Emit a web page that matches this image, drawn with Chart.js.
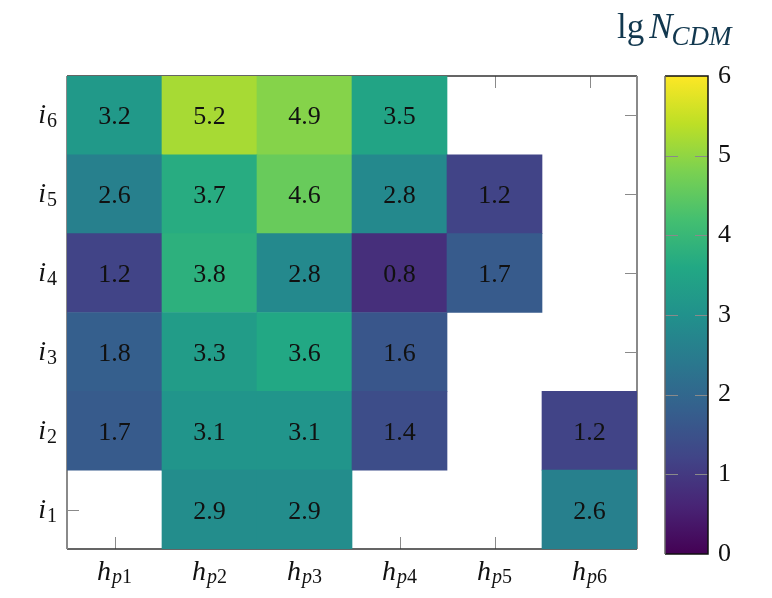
<!DOCTYPE html>
<html>
<head>
<meta charset="utf-8">
<script src="https://cdn.jsdelivr.net/npm/chart.js@4.4.1/dist/chart.umd.min.js"></script>
<style>
  html, body { margin: 0; padding: 0; background: #fff; }
  #wrap { position: relative; width: 772px; height: 598px; }
  #heat { position: absolute; left: 0; top: 0; }
  #cbar { position: absolute; left: 640px; top: 0; }
</style>
</head>
<body>
<div id="wrap">
  <canvas id="heat" width="772" height="598"></canvas>
  <canvas id="cbar" width="132" height="598"></canvas>
</div>
<script>
// --- data ---
const colLabels = ['p1', 'p2', 'p3', 'p4', 'p5', 'p6'];   // h_{p..}
const rowLabels = ['1', '2', '3', '4', '5', '6'];          // i_{..}
// one array per row (i1 .. i6), null = empty cell
const rowI1 = [null, 2.9, 2.9, null, null, 2.6];
const rowI2 = [1.7, 3.1, 3.1, 1.4, null, 1.2];
const rowI3 = [1.8, 3.3, 3.6, 1.6, null, null];
const rowI4 = [1.2, 3.8, 2.8, 0.8, 1.7, null];
const rowI5 = [2.6, 3.7, 4.6, 2.8, 1.2, null];
const rowI6 = [3.2, 5.2, 4.9, 3.5, null, null];
const rows = [rowI1, rowI2, rowI3, rowI4, rowI5, rowI6];
const cbMin = 0, cbMax = 6;
const cbTicks = [0, 1, 2, 3, 4, 5, 6];

// viridis colormap
const viridisStops = ['#440154', '#482475', '#414487', '#355f8d', '#2a788e',
  '#21918c', '#22a884', '#44bf70', '#7ad151', '#bddf26', '#fde725'];

function hexToRgb(h) {
  return [parseInt(h.slice(1, 3), 16), parseInt(h.slice(3, 5), 16), parseInt(h.slice(5, 7), 16)];
}
function viridis(t) {
  t = Math.max(0, Math.min(1, t));
  const n = viridisStops.length - 1;
  const i = Math.min(n - 1, Math.floor(t * n));
  const f = t * n - i;
  const a = hexToRgb(viridisStops[i]), b = hexToRgb(viridisStops[i + 1]);
  const c = a.map((v, k) => Math.round(v + (b[k] - v) * f));
  return 'rgb(' + c.join(',') + ')';
}
const colorFor = v => v == null ? 'rgba(0,0,0,0)' : viridis((v - cbMin) / (cbMax - cbMin));

const serif = "'Liberation Serif', 'DejaVu Serif', serif";

// italic base letter + subscript (italic letter, upright digit)
function drawSub(ctx, base, sub, x, y, align, subDy) {
  ctx.font = 'italic 28px ' + serif;
  const wb = ctx.measureText(base).width;
  const letter = sub.replace(/[0-9]/g, '');
  const digits = sub.replace(/[^0-9]/g, '');
  ctx.font = 'italic 20px ' + serif;
  const wl = ctx.measureText(letter).width;
  ctx.font = '20px ' + serif;
  const wd = ctx.measureText(digits).width;
  const total = wb + 1 + wl + wd;
  const x0 = align === 'right' ? x - total : x - total / 2;
  ctx.textAlign = 'left';
  ctx.textBaseline = 'alphabetic';
  ctx.font = 'italic 28px ' + serif;
  ctx.fillText(base, x0, y);
  ctx.font = 'italic 20px ' + serif;
  ctx.fillText(letter, x0 + wb + 1, y + subDy);
  ctx.font = '20px ' + serif;
  ctx.fillText(digits, x0 + wb + 1 + wl, y + subDy);
}

const heatAxes = {
  id: 'heatAxes',
  beforeDatasetsDraw(chart) {
    const { ctx, chartArea: a, scales: { x, y } } = chart;
    ctx.save();
    // ticks (inward, on all four sides)
    ctx.strokeStyle = '#8a8a8a';
    ctx.lineWidth = 1;
    const tl = 12;
    ctx.beginPath();
    colLabels.forEach((c, i) => {
      const px = Math.round(x.getPixelForValue(i)) + 0.5;
      ctx.moveTo(px, a.bottom); ctx.lineTo(px, a.bottom - tl);
      ctx.moveTo(px, a.top); ctx.lineTo(px, a.top + tl);
    });
    rowLabels.forEach((r, j) => {
      const py = Math.round(y.getPixelForValue(j + 1)) + 0.5;
      ctx.moveTo(a.left, py); ctx.lineTo(a.left + tl, py);
      ctx.moveTo(a.right, py); ctx.lineTo(a.right - tl, py);
    });
    ctx.stroke();
    // frame
    ctx.lineWidth = 1.5;
    ctx.strokeStyle = '#333';
    ctx.beginPath();
    ctx.moveTo(a.left, a.top); ctx.lineTo(a.right, a.top);
    ctx.moveTo(a.left, a.bottom); ctx.lineTo(a.right, a.bottom);
    ctx.stroke();
    ctx.strokeStyle = '#8a8a8a';
    ctx.lineWidth = 2;
    ctx.beginPath();
    ctx.moveTo(a.left, a.top); ctx.lineTo(a.left, a.bottom);
    ctx.moveTo(a.right, a.top); ctx.lineTo(a.right, a.bottom);
    ctx.stroke();
    ctx.restore();
  },
  afterDatasetsDraw(chart) {
    const { ctx, chartArea: a, scales: { x, y } } = chart;
    ctx.save();
    ctx.fillStyle = '#111';
    // cell values
    ctx.font = '26px ' + serif;
    ctx.textAlign = 'center';
    ctx.textBaseline = 'alphabetic';
    rows.forEach((row, j) => {
      row.forEach((v, i) => {
        if (v == null) return;
        ctx.fillText(v.toFixed(1), x.getPixelForValue(i), y.getPixelForValue(j + 1) + 9);
      });
    });
    // axis labels
    colLabels.forEach((c, i) => {
      drawSub(ctx, 'h', c, x.getPixelForValue(i), a.bottom + 31, 'center', 3);
    });
    rowLabels.forEach((r, j) => {
      drawSub(ctx, 'i', r, a.left - 10, y.getPixelForValue(j + 1) + 8, 'right', 4);
    });
    // colorbar title
    ctx.fillStyle = '#12384f';
    ctx.textAlign = 'left';
    ctx.font = '35px ' + serif;
    ctx.fillText('lg', 617, 38);
    const wl = ctx.measureText('lg').width + 5;
    ctx.font = 'italic 35px ' + serif;
    ctx.fillText('N', 617 + wl, 38);
    const wn = ctx.measureText('N').width;
    ctx.font = 'italic 27px ' + serif;
    ctx.fillText('CDM', 617 + wl + wn - 1, 45);
    ctx.restore();
  }
};

new Chart(document.getElementById('heat'), {
  type: 'bar',
  data: {
    labels: colLabels,
    datasets: rows.map((row, j) => ({
      label: 'i' + rowLabels[j],
      data: row.map(v => v == null ? null : [j + 0.5, j + 1.5]),
      backgroundColor: row.map(colorFor),
      borderWidth: 0,
      grouped: false,
      barPercentage: 1,
      categoryPercentage: 1
    }))
  },
  options: {
    responsive: false,
    animation: false,
    layout: { padding: { left: 67, top: 76, right: 135, bottom: 49 } },
    plugins: { legend: { display: false }, tooltip: { enabled: false } },
    scales: {
      x: { display: false },
      y: { type: 'linear', display: false, min: 0.5, max: 6.5 }
    }
  },
  plugins: [heatAxes]
});

// --- colorbar ---
const cbFrame = {
  id: 'cbFrame',
  afterDatasetsDraw(chart) {
    const { ctx, chartArea: a, scales: { y } } = chart;
    const top = y.getPixelForValue(cbMax), bot = y.getPixelForValue(cbMin);
    ctx.save();
    ctx.strokeStyle = '#8a8a8a';
    ctx.lineWidth = 1;
    ctx.beginPath();
    cbTicks.slice(1, -1).forEach(t => {
      const py = Math.round(y.getPixelForValue(t)) + 0.5;
      ctx.moveTo(a.left, py); ctx.lineTo(a.left + 13, py);
      ctx.moveTo(a.right, py); ctx.lineTo(a.right - 13, py);
    });
    ctx.stroke();
    ctx.lineWidth = 1.5;
    ctx.strokeStyle = '#111';
    ctx.beginPath();
    ctx.moveTo(a.left, top); ctx.lineTo(a.right, top); ctx.lineTo(a.right, bot); ctx.lineTo(a.left, bot);
    ctx.stroke();
    ctx.strokeStyle = '#666';
    ctx.beginPath();
    ctx.moveTo(a.left, top); ctx.lineTo(a.left, bot);
    ctx.stroke();
    ctx.restore();
  }
};

new Chart(document.getElementById('cbar'), {
  type: 'bar',
  data: {
    labels: ['lg N'],
    datasets: [{
      data: [[cbMin, cbMax]],
      borderWidth: 0,
      barPercentage: 1,
      categoryPercentage: 1,
      backgroundColor: (c) => {
        const chart = c.chart;
        if (!chart.chartArea) return null;
        const y = chart.scales.y;
        const g = chart.ctx.createLinearGradient(0, y.getPixelForValue(cbMin), 0, y.getPixelForValue(cbMax));
        viridisStops.forEach((s, i) => g.addColorStop(i / (viridisStops.length - 1), s));
        return g;
      }
    }]
  },
  options: {
    responsive: false,
    animation: false,
    layout: { padding: { left: 25, top: 76, right: 31, bottom: 44 } },
    plugins: { legend: { display: false }, tooltip: { enabled: false } },
    scales: {
      x: { display: false },
      y: {
        position: 'right',
        min: cbMin, max: cbMax,
        grid: { display: false, drawTicks: false },
        border: { display: false },
        afterBuildTicks: s => { s.ticks = cbTicks.map(v => ({ value: v })); },
        ticks: { padding: 10, color: '#111', font: { family: serif, size: 26 } }
      }
    }
  },
  plugins: [cbFrame]
});
</script>
</body>
</html>
